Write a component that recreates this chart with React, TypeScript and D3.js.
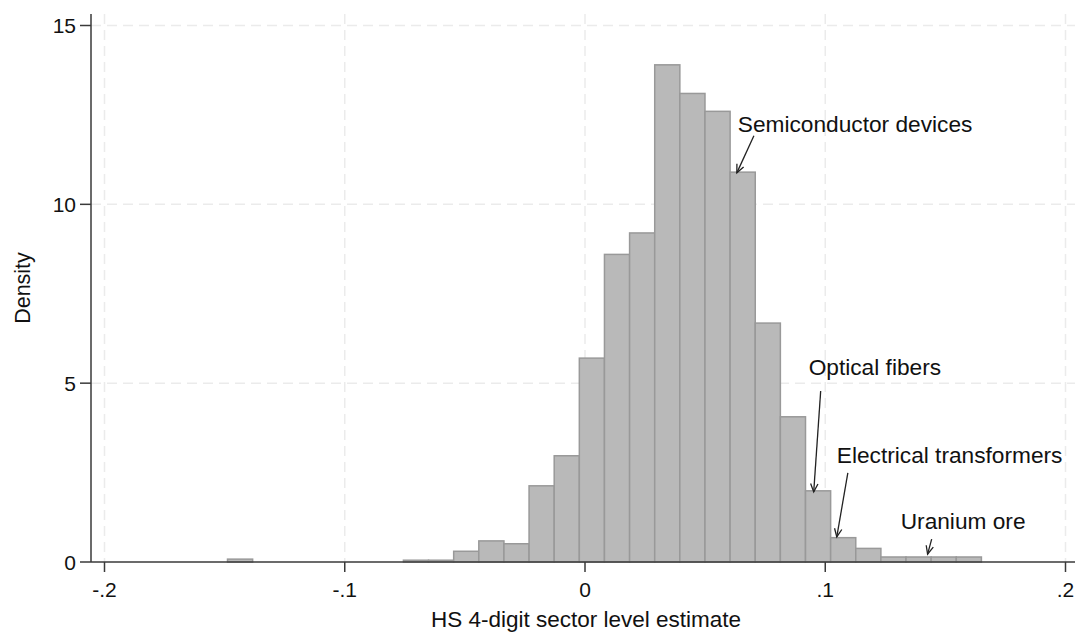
import React from "react";
import * as d3 from "d3";

// histogram: 30 bins starting at binStart
const binStart = -0.1488;
const binWidth = 0.01046;
const density = [
  0.08, 0, 0, 0, 0, 0, 0, 0.05, 0.05, 0.3, 0.59, 0.51, 2.13, 2.97, 5.7, 8.6, 9.2, 13.9, 13.1, 12.6,
  10.9, 6.68, 4.06, 1.99, 0.68, 0.38, 0.14, 0.14, 0.14, 0.14,
];

const xTicks = [-0.2, -0.1, 0, 0.1, 0.2];
const yTicks = [0, 5, 10, 15];

const noteLabels = ["Semiconductor devices", "Optical fibers", "Electrical transformers", "Uranium ore"];
const noteTextX = [0.0636, 0.0931, 0.1048, 0.1314];
const noteTextY = [12.03, 5.23, 2.77, 0.92];
const arrowFrom = [[0.0703, 11.92], [0.0981, 4.78], [0.1094, 2.49], [0.1443, 0.64]];
const arrowTo = [[0.0632, 10.88], [0.0952, 1.96], [0.1048, 0.7], [0.1426, 0.22]];

const W = 1080;
const H = 633;
const FONT = "'Liberation Sans', Arial, sans-serif";

const x = d3.scaleLinear().domain([-0.2, 0.2]).range([104.5, 1065.5]);
const y = d3.scaleLinear().domain([0, 15]).range([562, 25.5]);

// Stata style labels: "-.1", "0", ".1"
const fmt = (v: number) =>
  v === 0 ? "0" : d3.format(".1f")(v).replace("\u2212", "-").replace("0.", ".");

function arrowHead(x1: number, y1: number, x2: number, y2: number) {
  const ang = Math.atan2(y2 - y1, x2 - x1);
  const len = 9;
  const spread = 0.42;
  const a = [x2 - len * Math.cos(ang - spread), y2 - len * Math.sin(ang - spread)];
  const b = [x2 - len * Math.cos(ang + spread), y2 - len * Math.sin(ang + spread)];
  return `M${a[0]},${a[1]}L${x2},${y2}L${b[0]},${b[1]}`;
}

export default function App() {
  const left = 91;
  const right = 1075;
  const top = 14;
  const base = y(0);

  return (
    <svg
      width={W}
      height={H}
      style={{ position: "absolute", left: 0, top: 0, background: "#fff" }}
      fontFamily={FONT}
    >
      {/* grid */}
      <g stroke="#ebebeb" strokeWidth={1.5} strokeDasharray="10,6">
        {xTicks.map((t) => (
          <line key={"gx" + t} x1={x(t)} x2={x(t)} y1={top} y2={base} />
        ))}
        {yTicks
          .filter((t) => t > 0)
          .map((t) => (
            <line key={"gy" + t} x1={left} x2={right} y1={y(t)} y2={y(t)} />
          ))}
      </g>

      {/* bars */}
      <g fill="#b9b9b9" stroke="#999" strokeWidth={1.5}>
        {density.map((d, i) =>
          d > 0 ? (
            <rect
              key={i}
              x={x(binStart + i * binWidth)}
              y={y(d)}
              width={x(binStart + (i + 1) * binWidth) - x(binStart + i * binWidth)}
              height={base - y(d)}
            />
          ) : null
        )}
      </g>

      {/* axes */}
      <g stroke="#3a3a3a" strokeWidth={1.5}>
        <line x1={left} x2={left} y1={top} y2={base} />
        <line x1={left} x2={right} y1={base} y2={base} />
        {yTicks.map((t) => (
          <line key={"ty" + t} x1={left - 11} x2={left} y1={y(t)} y2={y(t)} />
        ))}
        {xTicks.map((t) => (
          <line key={"tx" + t} x1={x(t)} x2={x(t)} y1={base} y2={base + 10} />
        ))}
      </g>
      <g fontSize={21} fill="#111">
        {yTicks.map((t) => (
          <text key={"ly" + t} x={76} y={y(t)} textAnchor="end" dominantBaseline="central">
            {t}
          </text>
        ))}
        {xTicks.map((t) => (
          <text key={"lx" + t} x={x(t)} y={597} textAnchor="middle">
            {fmt(t)}
          </text>
        ))}
      </g>

      {/* axis titles */}
      <text x={586} y={627} textAnchor="middle" fontSize={22.5} fill="#111">
        HS 4-digit sector level estimate
      </text>
      <text
        transform="translate(30,288) rotate(-90)"
        textAnchor="middle"
        fontSize={21.5}
        fill="#111"
      >
        Density
      </text>

      {/* annotations */}
      <g>
        {noteLabels.map((lab, i) => {
          const x1 = x(arrowFrom[i][0]);
          const y1 = y(arrowFrom[i][1]);
          const x2 = x(arrowTo[i][0]);
          const y2 = y(arrowTo[i][1]);
          return (
            <g key={lab}>
              <text x={x(noteTextX[i])} y={y(noteTextY[i])} fontSize={22.7} fill="#111">
                {lab}
              </text>
              <line x1={x1} y1={y1} x2={x2} y2={y2} stroke="#222" strokeWidth={1.3} />
              <path d={arrowHead(x1, y1, x2, y2)} fill="none" stroke="#222" strokeWidth={1.3} />
            </g>
          );
        })}
      </g>
    </svg>
  );
}
